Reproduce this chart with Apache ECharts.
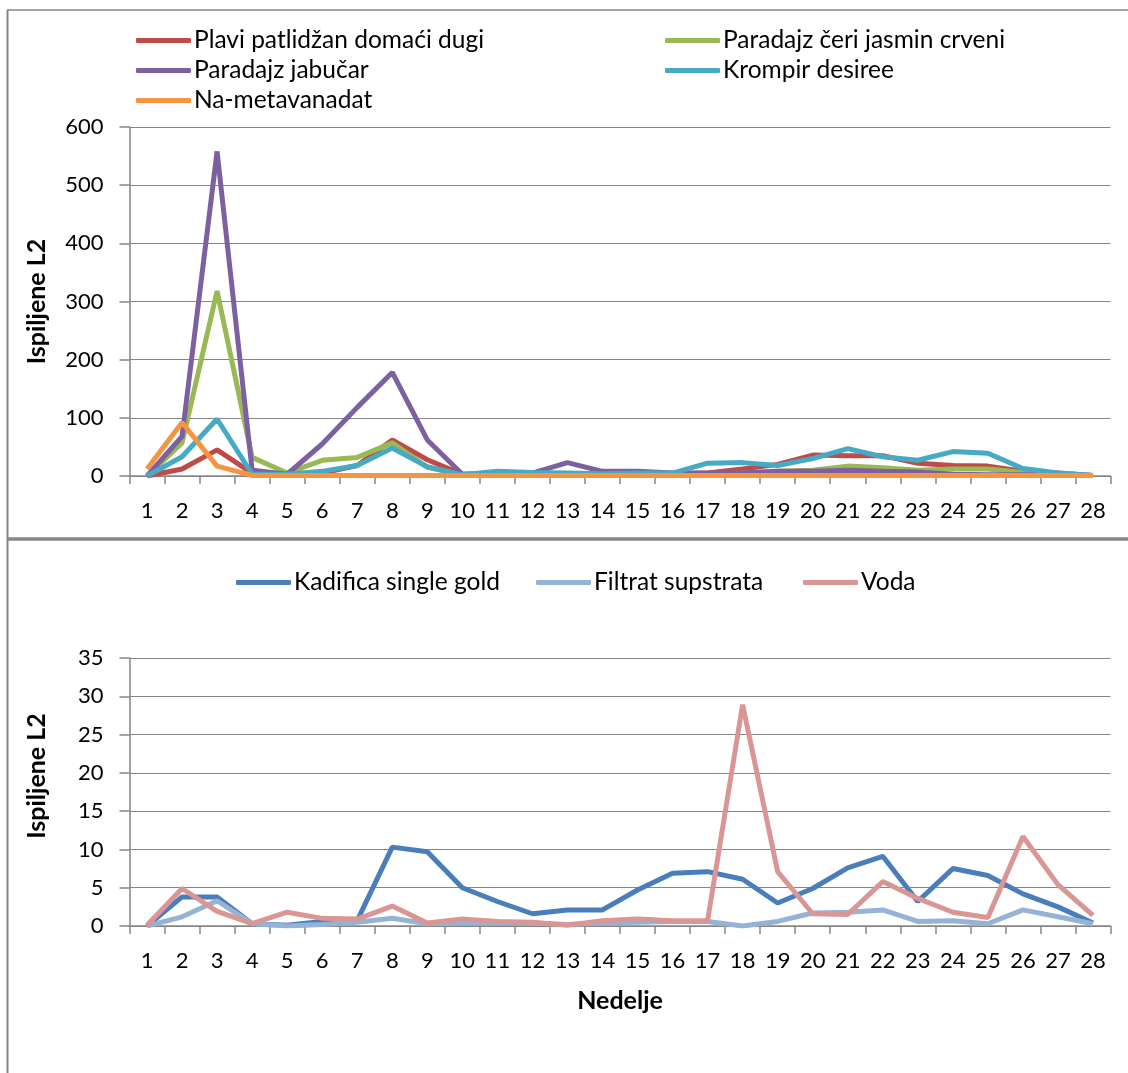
<!DOCTYPE html>
<html>
<head>
<meta charset="utf-8">
<script src="https://cdn.jsdelivr.net/npm/echarts@6/dist/echarts.min.js"></script>
<style>
html,body{margin:0;padding:0;background:#fff;}
#c{width:1128px;height:1073px;}
</style>
</head>
<body>
<div id="c"></div>
<script>
const weeks = ['1','2','3','4','5','6','7','8','9','10','11','12','13','14','15','16','17','18','19','20','21','22','23','24','25','26','27','28'];

const topNames = ['Plavi patlidžan domaći dugi','Paradajz čeri jasmin crveni','Paradajz jabučar','Krompir desiree','Na-metavanadat'];
const plaviPatlidzan = [0,12,45,5,2,5,18,62,28,3,3,3,3,3,4,4,5,12,20,36,35,35,22,18,17,8,5,1];
const paradajzCeri   = [0,57,318,32,5,27,32,57,15,2,2,2,2,2,2,2,3,5,8,10,17,14,10,12,12,6,3,1];
const paradajzJabucar= [0,68,558,10,3,55,118,178,62,3,5,5,23,8,8,5,5,5,8,8,10,8,7,3,2,2,2,1];
const krompirDesiree = [0,33,98,3,3,8,18,48,16,2,8,6,5,4,5,5,22,23,18,30,47,33,27,42,39,13,5,1];
const naMetavanadat  = [12,92,17,1,1,1,1,1,1,1,1,1,1,1,1,1,1,1,1,1,1,1,1,1,1,1,1,1];

const bottomNames = ['Kadifica single gold','Filtrat supstrata','Voda'];
const kadifica = [0,3.8,3.8,0.3,0.1,0.6,0.7,10.3,9.7,5,3.2,1.6,2.1,2.1,4.7,6.9,7.1,6.1,3,4.9,7.6,9.1,3.2,7.5,6.6,4.2,2.5,0.4];
const filtrat  = [0,1.2,3.3,0.3,0,0.2,0.5,1,0.3,0.4,0.5,0.4,0.2,0.4,0.5,0.6,0.6,0,0.6,1.7,1.8,2.1,0.6,0.7,0.3,2.1,1.2,0.3];
const voda     = [0.1,4.9,1.9,0.3,1.8,1,0.9,2.6,0.4,0.9,0.6,0.5,0.1,0.7,0.9,0.7,0.7,28.9,7.1,1.6,1.5,5.8,3.6,1.8,1.1,11.7,5.4,1.4];

const yTitle = 'Ispiljene L2';
const xTitle = 'Nedelje';

const FONT = 'Lato';
const FS = 22;
const FS_LEG = 24.5;
const FS_TITLE = 25;
const GRAY = '#868686';

const topColors = ['#BE4B48','#98B954','#7D60A0','#46AAC5','#F59443'];
const bottomColors = ['#4A7EBB','#95B3D7','#D99694'];

function xAxisCfg(gridIndex, withName){
  const a = {
    type:'category', gridIndex, data: weeks, boundaryGap:true,
    axisLine:{show:true, lineStyle:{color:GRAY, width:1.5}},
    axisTick:{show:true, length:8, lineStyle:{color:GRAY, width:1.5}},
    axisLabel:{color:'#000', fontFamily:FONT, fontSize:FS, margin:24, interval:0},
    splitLine:{show:false}
  };
  if(withName){
    a.name = xTitle; a.nameLocation='middle'; a.nameGap=62;
    a.nameTextStyle = {color:'#000', fontFamily:FONT, fontSize:FS_TITLE, fontWeight:'bold'};
  }
  return a;
}
function yAxisCfg(gridIndex, max, interval, pad){
  return {
    type:'value', gridIndex, min:0, max, interval,
    name: yTitle, nameLocation:'middle', nameGap:80,
    nameTextStyle:{color:'#000', fontFamily:FONT, fontSize:FS_TITLE, fontWeight:'bold', padding:pad},
    axisLine:{show:true, lineStyle:{color:GRAY, width:1.5}},
    axisTick:{show:true, length:10, lineStyle:{color:GRAY, width:1.5}},
    axisLabel:{color:'#000', fontFamily:FONT, fontSize:FS, margin:26},
    splitLine:{show:true, lineStyle:{color:GRAY, width:1.2}}
  };
}
function legendAt(name, left, top){
  return {
    data:[name], left, top, orient:'horizontal', padding:0,
    icon:'roundRect', itemWidth:55, itemHeight:5, itemGap:0,
    textStyle:{color:'#000', fontFamily:FONT, fontSize:FS_LEG, padding:[0,0,0,-2]}
  };
}

const topData = [plaviPatlidzan, paradajzCeri, paradajzJabucar, krompirDesiree, naMetavanadat];
const bottomData = [kadifica, filtrat, voda];

const series = [];
topNames.forEach((n,i)=>series.push({
  name:n, type:'line', xAxisIndex:0, yAxisIndex:0, data: topData[i],
  symbol:'none', lineStyle:{width:5, color:topColors[i]}, itemStyle:{color:topColors[i]},
  z: 8 + i
}));
bottomNames.forEach((n,i)=>series.push({
  name:n, type:'line', xAxisIndex:1, yAxisIndex:1, data: bottomData[i],
  symbol:'none', lineStyle:{width:5, color:bottomColors[i]}, itemStyle:{color:bottomColors[i]},
  z: 8 + i
}));

const chart = echarts.init(document.getElementById('c'), null, {renderer:'canvas'});
chart.setOption({
  animation:false,
  backgroundColor:'#fff',
  grid:[
    {left:129.5, top:127, width:981, height:349},
    {left:129.5, top:658, width:981, height:268}
  ],
  xAxis:[xAxisCfg(0,false), xAxisCfg(1,true)],
  yAxis:[yAxisCfg(0,600,100,0), yAxisCfg(1,35,5,[0,0,0,32])],
  legend:[
    legendAt(topNames[0],136,28),
    legendAt(topNames[1],665,28),
    legendAt(topNames[2],136,58),
    legendAt(topNames[3],665,58),
    legendAt(topNames[4],136,88),
    legendAt(bottomNames[0],236,570),
    legendAt(bottomNames[1],536,570),
    legendAt(bottomNames[2],803,570)
  ],
  graphic:[
    {type:'line', shape:{x1:7,y1:10,x2:1128,y2:10}, style:{stroke:GRAY, lineWidth:1.5}, silent:true},
    {type:'line', shape:{x1:7.5,y1:10,x2:7.5,y2:1073}, style:{stroke:GRAY, lineWidth:2}, silent:true},
    {type:'line', shape:{x1:7,y1:539,x2:1128,y2:539}, style:{stroke:GRAY, lineWidth:3.5}, silent:true}
  ],
  series
});
</script>
</body>
</html>
